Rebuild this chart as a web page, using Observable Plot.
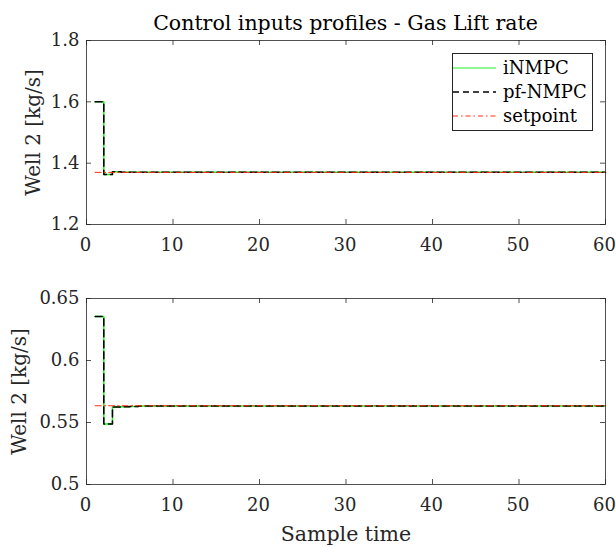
<!DOCTYPE html>
<html>
<head>
<meta charset="utf-8">
<script src="https://cdn.jsdelivr.net/npm/d3@7"></script>
<script src="https://cdn.jsdelivr.net/npm/@observablehq/plot@0.6"></script>
<style>
  html, body { margin: 0; padding: 0; background: #fff; }
  #wrap { position: relative; width: 616px; height: 547px; background: #fff; overflow: hidden; font-family: "DejaVu Serif", serif; }
  #wrap svg { position: absolute; left: 0; }
  #title { position: absolute; left: 86px; width: 519px; top: 11px; text-align: center; font-size: 20.5px; line-height: 24px; color: #000; }
  #legend { position: absolute; left: 452px; top: 53px; width: 139px; height: 76px; border: 1px solid #262626; background: #fff; }
  .lrow { position: absolute; left: 0; height: 22px; width: 139px; }
  .lrow svg { position: absolute; left: 4px; top: 0; }
  .lrow span { position: absolute; left: 50px; top: 0; line-height: 22px; font-size: 18px; color: #000; }
</style>
</head>
<body>
<div id="wrap">
  <div id="title">Control inputs profiles - Gas Lift rate</div>
</div>
<script>
// ---- data ----
const xTicks = [0, 10, 20, 30, 40, 50, 60];

// top panel (gas lift rate, well 2)
const topTime = [1, 2, 3, 4, 60];
const topINMPC = [1.6, 1.363, 1.372, 1.370, 1.370];
const topPfNMPC = [1.6, 1.363, 1.372, 1.370, 1.370];
const topSetTime = [1, 60];
const topSetpoint = [1.37, 1.37];
const topYTicks = [1.2, 1.4, 1.6, 1.8];

// bottom panel
const botTime = [1, 2, 3, 4, 5, 6, 60];
const botINMPC = [0.6355, 0.5487, 0.5626, 0.5627, 0.5629, 0.5634, 0.5634];
const botPfNMPC = [0.6355, 0.5487, 0.5626, 0.5627, 0.5629, 0.5634, 0.5634];
const botSetTime = [1, 60];
const botSetpoint = [0.5635, 0.5635];
const botYTicks = [0.5, 0.55, 0.6, 0.65];

const yLabel = "Well 2 [kg/s]";
const xLabel = "Sample time";
const seriesNames = ["iNMPC", "pf-NMPC", "setpoint"];
const colors = {iNMPC: "#22ee22", pf: "#000000", set: "#ff2a10"};

const FONT = "DejaVu Serif";
const AX = "#262626";

function panel({top, height, mt, mb, yDomain, yTicks, t, a, b, st, sv, xlabel, ylabelDx}) {
  const W = 616, ml = 86, mr = 11;
  const pw = W - ml - mr, ph = height - mt - mb;
  const A = t.map((x, i) => ({x, y: a[i]}));
  const B = t.map((x, i) => ({x, y: b[i]}));
  const S = st.map((x, i) => ({x, y: sv[i]}));
  const marks = [
    Plot.line(A, {x: "x", y: "y", curve: "step-after", stroke: colors.iNMPC, strokeWidth: 1.5}),
    Plot.line(B, {x: "x", y: "y", curve: "step-after", stroke: colors.pf, strokeWidth: 1.5, strokeDasharray: "7,4"}),
    Plot.line(S, {x: "x", y: "y", stroke: colors.set, strokeWidth: 1, strokeDasharray: "6,3,1.5,3"}),
    Plot.frame({stroke: AX, strokeOpacity: 0.8}),
    // inward ticks on all four sides
    Plot.ruleX(xTicks, {x: d => d, insetTop: ph - 5, stroke: AX, strokeOpacity: 0.8}),
    Plot.ruleX(xTicks, {x: d => d, insetBottom: ph - 5, stroke: AX, strokeOpacity: 0.8}),
    Plot.ruleY(yTicks, {y: d => d, insetRight: pw - 5, stroke: AX, strokeOpacity: 0.8}),
    Plot.ruleY(yTicks, {y: d => d, insetLeft: pw - 5, stroke: AX, strokeOpacity: 0.8}),
    Plot.axisX(xTicks, {tickSize: 0, tickPadding: 14, fontSize: 18, dx: -1, fill: AX, label: null, fontFamily: FONT}),
    Plot.axisY(yTicks, {tickSize: 0, tickPadding: 7, fontSize: 18, fill: AX, label: null, tickFormat: d => String(d), fontFamily: FONT}),
    Plot.text([yLabel], {frameAnchor: "left", textAnchor: "middle", lineAnchor: "middle", dx: ylabelDx, rotate: -90, fontSize: 20, fill: AX, fontFamily: FONT})
  ];
  if (xlabel) marks.push(Plot.text([xlabel], {frameAnchor: "bottom", dy: 56, fontSize: 20.5, fill: AX, fontFamily: FONT}));
  const svg = Plot.plot({
    width: W, height,
    marginLeft: ml, marginRight: mr, marginTop: mt, marginBottom: mb,
    style: {fontFamily: FONT, background: "transparent", overflow: "visible"},
    x: {domain: [0, 60]},
    y: {domain: yDomain},
    marks
  });
  svg.style.top = top + "px";
  return svg;
}

const wrap = document.getElementById("wrap");
wrap.appendChild(panel({top: 0, height: 262, mt: 40, mb: 38, yDomain: [1.2, 1.8], yTicks: topYTicks,
  t: topTime, a: topINMPC, b: topPfNMPC, st: topSetTime, sv: topSetpoint, ylabelDx: -53}));
wrap.appendChild(panel({top: 262, height: 285, mt: 36, mb: 63, yDomain: [0.5, 0.65], yTicks: botYTicks,
  t: botTime, a: botINMPC, b: botPfNMPC, st: botSetTime, sv: botSetpoint, xlabel: xLabel, ylabelDx: -67}));

// legend
const legend = document.createElement("div");
legend.id = "legend";
const styles = [
  {stroke: colors.iNMPC, dash: null, w: 1},
  {stroke: colors.pf, dash: "6,4", w: 1.5},
  {stroke: colors.set, dash: "5,3,1.5,3", w: 1}
];
seriesNames.forEach((name, i) => {
  const row = document.createElement("div");
  row.className = "lrow";
  row.style.top = (3 + i * 24) + "px";
  const s = d3.create("svg").attr("width", 44).attr("height", 22);
  s.append("line").attr("x1", 0).attr("x2", 43).attr("y1", 11).attr("y2", 11)
    .attr("stroke", styles[i].stroke).attr("stroke-width", styles[i].w)
    .attr("stroke-dasharray", styles[i].dash);
  row.appendChild(s.node());
  const sp = document.createElement("span");
  sp.textContent = name;
  row.appendChild(sp);
  legend.appendChild(row);
});
wrap.appendChild(legend);
</script>
</body>
</html>
